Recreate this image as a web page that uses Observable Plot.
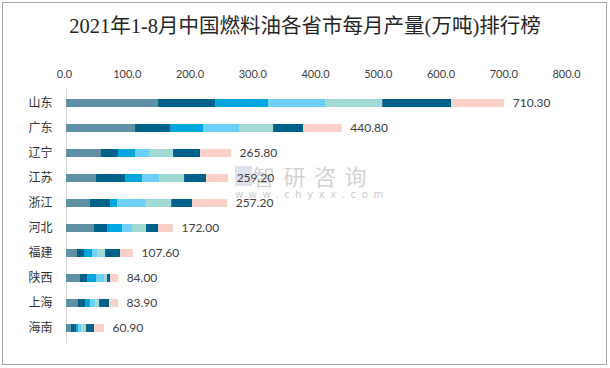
<!DOCTYPE html>
<html><head><meta charset="utf-8">
<script src="https://cdn.jsdelivr.net/npm/d3@7"></script>
<script src="https://cdn.jsdelivr.net/npm/@observablehq/plot@0.6"></script>
<style>
body{margin:0;background:#fff;}
#wrap{position:relative;width:610px;height:368px;overflow:hidden;background:#fff;}
#frame{position:absolute;left:2px;top:2px;width:603px;height:361px;border:1px solid #a6a6a6;box-sizing:content-box;}
#title{position:absolute;left:0;top:16px;width:610px;text-align:center;font-size:20.5px;line-height:20px;font-family:"Liberation Serif","Noto Sans CJK SC",serif;color:#262626;white-space:nowrap;}
#chart{position:absolute;left:0;top:0;}
#wm1{position:absolute;left:253px;top:163px;font-size:22px;line-height:24px;font-family:"Noto Sans CJK SC",sans-serif;color:#d2d2d2;letter-spacing:8.5px;white-space:nowrap;}
#wm2{position:absolute;left:235px;top:189px;font-size:10px;line-height:12px;font-family:"DejaVu Sans",sans-serif;color:#cccccc;letter-spacing:5.6px;white-space:nowrap;}
#logo{position:absolute;left:235px;top:166px;width:17px;height:20px;background:#dde2ec;}
</style>
</head><body>
<div id="wrap">
  <div id="frame"></div>
  <div id="logo"></div>
  <div id="wm1">智研咨询</div>
  <div id="wm2">www.chyxx.com</div>
  <div id="chart"></div>
  <div id="title">2021年1-8月中国燃料油各省市每月产量(万吨)排行榜</div>
</div>
<script>
const provinces = ["山东","广东","辽宁","江苏","浙江","河北","福建","陕西","上海","海南"];
const months = ["1-2月","3月","4月","5月","6月","7月","8月"];
const totals = [710.3,440.8,265.8,259.2,257.2,172.0,107.6,84.0,83.9,60.9];
const m12 = [146.7,110.0,55.8,47.8,38.3,44.7,17.5,22.3,19.1,8.0];
const m3  = [90.9,55.8,27.1,46.3,31.9,20.7,11.2,11.2,11.2,8.0];
const m4  = [84.5,52.6,27.1,27.1,11.2,23.9,12.8,14.4,8.0,3.2];
const m5  = [90.9,57.4,22.3,27.1,46.3,15.9,8.0,12.8,8.0,4.8];
const m6  = [90.9,54.2,38.3,39.9,39.9,22.3,12.8,4.8,6.4,8.0];
const m7  = [110.0,47.8,43.1,35.1,33.5,19.1,23.9,4.8,15.9,12.8];
const m8  = [84.5,61.7,49.4,35.1,55.8,23.9,20.7,12.8,14.4,15.9];
const monthColors = ["#5f90a6","#00628a","#00a6de","#6dcff6","#a1d9d4","#00628a","#f9d1c9"];
const xTicks = [0,100,200,300,400,500,600,700,800];

const series = [m12,m3,m4,m5,m6,m7,m8];
const rows = [];
series.forEach((arr, j) => arr.forEach((v, i) => rows.push({province: provinces[i], month: months[j], value: v})));
const labels = provinces.map((p, i) => ({province: p, total: totals[i], end: d3.sum(series, s => s[i])}));

const chart = Plot.plot({
  width: 610, height: 368,
  marginTop: 80, marginBottom: 18, marginLeft: 66, marginRight: 42,
  style: {background: "transparent", fontFamily: "Lato, sans-serif", fontSize: "11px", color: "#404040", overflow: "visible"},
  x: {domain: [0, 800], axis: null},
  y: {domain: provinces, axis: null, padding: 0.68},
  color: {domain: months, range: monthColors},
  marks: [
    Plot.ruleX([0], {stroke: "#d9d9d9", insetTop: 10, insetBottom: 8}),
    Plot.barX(rows, Plot.stackX({x: "value", y: "province", fill: "month"})),
    Plot.axisX(xTicks, {anchor: "top", tickSize: 0, tickPadding: 3, tickFormat: d3.format(".1f"), label: null, dx: -2, fontSize: 11, fill: "#404040"}),
    Plot.axisY({anchor: "left", tickSize: 0, tickPadding: 14, label: null, fontSize: 12, fontFamily: "Noto Sans CJK SC", fill: "#333333"}),
    Plot.text(labels, {x: "end", y: "province", text: d => d3.format(".2f")(d.total), dx: 8, textAnchor: "start", fontSize: 12, fontFamily: "Lato, sans-serif", fill: "#404040"})
  ]
});
document.getElementById("chart").appendChild(chart);
</script>
</body></html>
